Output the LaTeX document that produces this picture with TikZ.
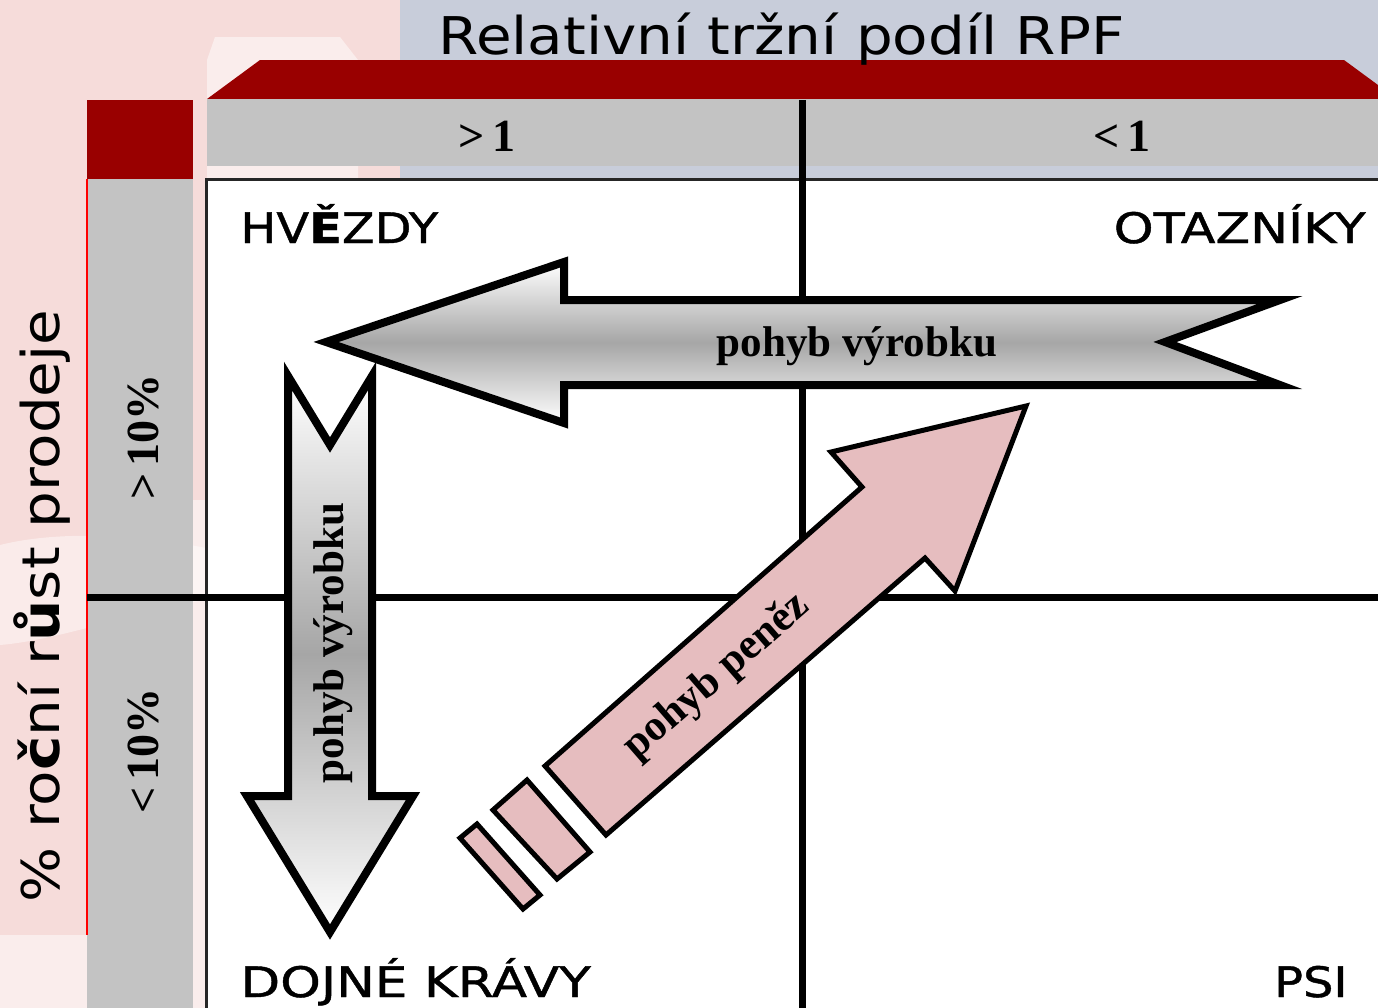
\documentclass[tikz,border=0pt]{standalone}
\usepackage{fontspec}
\newfontfamily\widesans[FakeStretch=1.115]{DejaVu Sans}
\newfontfamily\quadsans[FakeStretch=1.14,FakeBold=1]{DejaVu Sans}
\newfontfamily\timesb{Liberation Serif}
\definecolor{bgpink}{HTML}{F6DCDA}
\definecolor{bgblue}{HTML}{C8CDDA}
\definecolor{bandgray}{HTML}{C3C3C3}
\definecolor{bandred}{HTML}{990000}
\definecolor{arrowgray}{HTML}{A6A6A6}
\definecolor{pinkfill}{HTML}{E6BDBF}
\begin{document}
\begin{tikzpicture}[x=0.5pt,y=-0.5pt,
  axislabel/.style={font=\widesans\fontsize{26}{30}\selectfont, inner sep=0pt},
  quadlabel/.style={font=\quadsans\fontsize{21}{25}\selectfont, inner sep=0pt},
  bandlabel/.style={font=\timesb\bfseries\fontsize{23}{27}\selectfont, inner sep=0pt},
  arrowlabel/.style={font=\timesb\bfseries\fontsize{21.5}{25}\selectfont, inner sep=0pt},
  grayarrow/.style={draw=black, line width=4pt, line join=miter,
    top color=white, bottom color=white, middle color=arrowgray},
  pinkarrow/.style={draw=black, line width=2.5pt, line join=miter, fill=pinkfill},
  divider/.style={draw=black, line width=3.5pt}]
\useasboundingbox (0,0) rectangle (1378,1008);

% background
\fill[bgpink] (0,0) rectangle (1378,1008);
\fill[bgblue] (400,0) rectangle (1378,179);
\fill[white, opacity=0.5] (215,37) -- (340,37) -- (358,60) -- (358,179) -- (207,179) -- (207,60) -- cycle;
\fill[white, opacity=0.45] (0,545) .. controls (60,530) and (140,535) .. (206,548)
  -- (206,600) .. controls (140,610) and (60,640) .. (0,645) -- cycle;
\fill[white, opacity=0.5] (0,935) rectangle (87,1008);
\fill[white, opacity=0.5] (193,500) rectangle (206,1008);

% column header: red bevelled band and grey band
\fill[bandred] (207,99) -- (260,60) -- (1344,60) -- (1378,85) -- (1378,99) -- cycle;
\fill[bandgray] (207,99) rectangle (1378,166);

% row header: red square and grey band
\fill[bandred] (87,100) rectangle (193,179);
\fill[bandgray] (87,179) rectangle (193,1008);
\draw[red, line width=1pt] (87,179) -- (87,935);

% matrix field
\fill[white] (206,179) rectangle (1378,1008);
\draw[black!85, line width=1.5pt] (1378,179) -- (206,179) -- (206,1008);

% quadrant dividers
\draw[divider] (802,100) -- (802,1008);
\draw[divider] (87,597) -- (1378,597);

% header labels
\node[axislabel, anchor=base west] (title) at (438,54) {Relativní tržní podíl RPF};
\node[bandlabel] (gtone) at (487,136) {>\,1};
\node[bandlabel] (ltone) at (1122,136) {<\,1};
\node[axislabel, rotate=90, anchor=base] (growth) at (59,606)
  {\% ro{\bfseries č}ní r{\bfseries ů}st prodeje};
\node[bandlabel, rotate=90, anchor=base] (hi) at (158,437) {>\,10\%};
\node[bandlabel, rotate=90, anchor=base] (lo) at (158,751) {<\,10\%};

% quadrant labels
\node[quadlabel, anchor=base west] (hvezdy) at (240,243) {HV{\bfseries Ě}ZDY};
\node[quadlabel, anchor=base east] (otazniky) at (1366,243) {\scalebox{1.06}[1]{OTAZNÍKY}};
\node[quadlabel, anchor=base west] (dojne) at (240,997) {\scalebox{1.08}[1]{DOJNÉ KRÁVY}};
\node[quadlabel, anchor=base east] (psi) at (1348,997) {PSI};

% downward product arrow
\draw[grayarrow] (288,376) -- (330,445) -- (372,376) -- (372,796) -- (413,796)
  -- (330,932) -- (247,796) -- (288,796) -- cycle;
\node[arrowlabel, rotate=90, anchor=base] (lblv) at (343,643) {pohyb výrobku};

% leftward product arrow
\draw[grayarrow] (326,342) -- (564,262) -- (564,300) -- (1280,300) -- (1165,342)
  -- (1280,385) -- (564,385) -- (564,423) -- cycle;
\node[arrowlabel, anchor=base] (lblh) at (857,356) {pohyb výrobku};

% money arrow with broken tail
\draw[pinkarrow] (460,838) -- (477,824) -- (540,895) -- (523,909) -- cycle;
\draw[pinkarrow] (493,810) -- (527,780) -- (590,852) -- (557,879) -- cycle;
\draw[pinkarrow] (545,766) -- (862,487) -- (831,452) -- (1026,406) -- (955,591)
  -- (925,558) -- (606,835) -- cycle;
\node[arrowlabel, rotate=41] (lblp) at (717,677) {pohyb peněz};
\end{tikzpicture}
\end{document}
